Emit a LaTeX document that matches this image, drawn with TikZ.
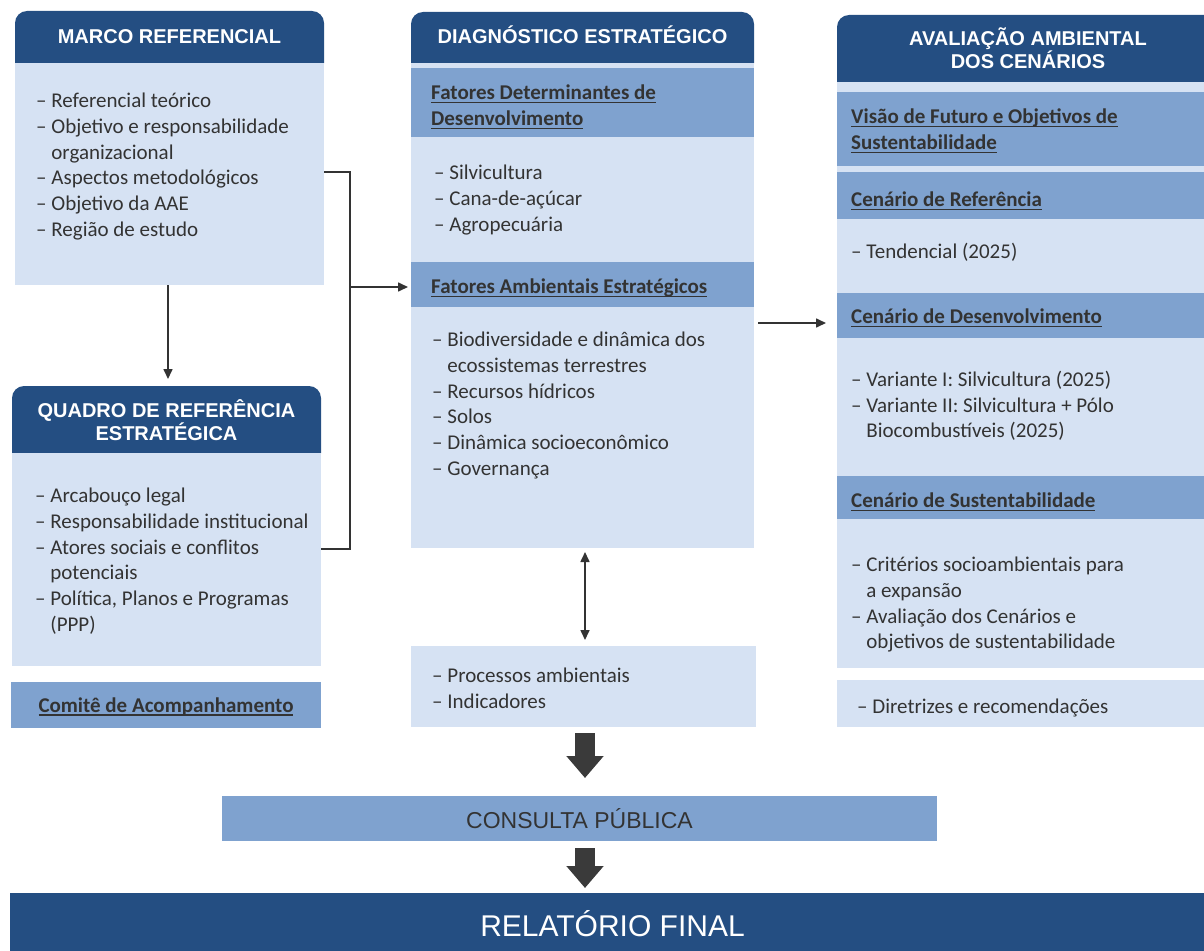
\documentclass[tikz,border=0pt]{standalone}
\usepackage{fontspec}
\setmainfont{Carlito}
\newfontfamily\hfont{Liberation Sans}
\usetikzlibrary{arrows.meta}
\definecolor{dk}{HTML}{244E82}
\definecolor{md}{HTML}{7FA2CF}
\definecolor{lt}{HTML}{D6E2F3}
\definecolor{tx}{HTML}{333333}
\definecolor{ar}{HTML}{3A3A3A}
\newcommand{\myul}[1]{\setbox0\hbox{#1}\rlap{\rule[-3.5pt]{\wd0}{1.3pt}}\box0}
\begin{document}
\begin{tikzpicture}[x=1pt,y=-1pt,
 rect/.style={inner sep=0pt, outer sep=0pt, anchor=north west, draw=none},
 ltbox/.style={rect, fill=lt},
 mdbox/.style={rect, fill=md},
 hdbox/.style={rect, fill=dk, rounded corners=12pt},
 body/.style={text=tx, font=\fontsize{21}{25.7}\selectfont, align=left, inner sep=0pt, anchor=north west, yshift=-2pt},
 sub/.style={body, font=\bfseries\fontsize{21}{25.7}\selectfont},
 title/.style={text=white, font=\hfont\bfseries\fontsize{20}{23.5}\selectfont, align=center, inner sep=0pt},
 conn/.style={draw=tx, line width=1.6pt},
 tip/.style={-{Triangle[length=10pt,width=9pt]}},
 bigarrow/.style={draw=ar, line width=20pt, -{Triangle[length=22pt,width=36pt]}}]
\useasboundingbox (0,0) rectangle (1204,950);
\clip (0,0) rectangle (1204,950);

% ---------- left column ----------
\node[hdbox, minimum width=309, minimum height=64] (mh) at (15,11) {};
\node[ltbox, minimum width=309, minimum height=222] (mb) at (15,63) {};
\node[title, anchor=base] (mht) at (169.5,44) {MARCO REFERENCIAL};
\node[body] (mbt) at (36,91) {– Referencial teórico\\– Objetivo e responsabilidade\\\hphantom{– }organizacional\\– Aspectos metodológicos\\– Objetivo da AAE\\– Região de estudo};

\node[hdbox, minimum width=309, minimum height=79] (qh) at (12,386) {};
\node[ltbox, minimum width=309, minimum height=213] (qb) at (12,453) {};
\node[title] (qht) at (166.5,420) {QUADRO DE REFERÊNCIA\\ESTRATÉGICA};
\node[body] (qbt) at (35,486) {– Arcabouço legal\\– Responsabilidade institucional\\– Atores sociais e conflitos\\\hphantom{– }potenciais\\– Política, Planos e Programas\\\hphantom{– }(PPP)};

\node[mdbox, minimum width=310, minimum height=46] (cm) at (11,682) {};
\node[sub, anchor=base] (cmt) at (166,710) {\myul{Comitê de Acompanhamento}};

% ---------- middle column ----------
\node[hdbox, minimum width=343, minimum height=63] (dh) at (411,12) {};
\node[ltbox, minimum width=343, minimum height=485] (dsb) at (411,63) {};
\node[title, anchor=base] (dht) at (582.5,44) {DIAGNÓSTICO ESTRATÉGICO};
\node[mdbox, minimum width=343, minimum height=69] (fdb) at (411,68) {};
\node[sub] (fdt) at (431,83) {\myul{Fatores Determinantes de}\\\myul{Desenvolvimento}};
\node[body] (fdl) at (434,163) {– Silvicultura\\– Cana-de-açúcar\\– Agropecuária};
\node[mdbox, minimum width=343, minimum height=45] (fab) at (411,262) {};
\node[sub] (fat) at (431,277) {\myul{Fatores Ambientais Estratégicos}};
\node[body] (fal) at (432,330) {– Biodiversidade e dinâmica dos\\\hphantom{– }ecossistemas terrestres\\– Recursos hídricos\\– Solos\\– Dinâmica socioeconômico\\– Governança};

\node[ltbox, minimum width=345, minimum height=81] (pb) at (411,646) {};
\node[body] (pbt) at (432,666) {– Processos ambientais\\– Indicadores};

% ---------- right column ----------
\node[hdbox, minimum width=383, minimum height=79] (ah) at (837,15) {};
\node[ltbox, minimum width=383, minimum height=586] (avb) at (837,82) {};
\node[title] (aht) at (1028,48) {AVALIAÇÃO AMBIENTAL\\DOS CENÁRIOS};
\node[mdbox, minimum width=383, minimum height=74] (vb) at (837,92) {};
\node[sub] (vbt) at (851,107) {\myul{Visão de Futuro e Objetivos de}\\\myul{Sustentabilidade}};
\node[mdbox, minimum width=383, minimum height=47] (crb) at (837,172) {};
\node[sub] (crt) at (851,190) {\myul{Cenário de Referência}};
\node[body] (crl) at (851,241) {– Tendencial (2025)};
\node[mdbox, minimum width=383, minimum height=45] (cdb) at (837,293) {};
\node[sub] (cdt) at (851,307) {\myul{Cenário de Desenvolvimento}};
\node[body] (cdl) at (851,369) {– Variante I: Silvicultura (2025)\\– Variante II: Silvicultura + Pólo\\\hphantom{– }Biocombustíveis (2025)};
\node[mdbox, minimum width=383, minimum height=43] (csb) at (837,476) {};
\node[sub] (cst) at (851,491) {\myul{Cenário de Sustentabilidade}};
\node[body] (csl) at (851,555) {– Critérios socioambientais para\\\hphantom{– }a expansão\\– Avaliação dos Cenários e\\\hphantom{– }objetivos de sustentabilidade};
\node[ltbox, minimum width=383, minimum height=47] (drb) at (837,680) {};
\node[body] (drt) at (857,697) {– Diretrizes e recomendações};

% ---------- bottom ----------
\node[mdbox, minimum width=715, minimum height=45] (cp) at (222,796) {};
\node[text=tx, font=\hfont\fontsize{23}{27}\selectfont, inner sep=0pt, anchor=base] (cpt) at (579.5,828) {CONSULTA PÚBLICA};
\node[rect, fill=dk, minimum width=1205, minimum height=67] (rf) at (10,893) {};
\node[text=white, font=\hfont\fontsize{30}{36}\selectfont, inner sep=0pt, anchor=base] (rft) at (612.5,936) {RELATÓRIO FINAL};

% ---------- connectors ----------
\coordinate (jn) at (350,287);
\draw[conn] ([yshift=2pt]mb.east) -| (jn) |- ([yshift=10.5pt]qb.east);
\draw[conn, tip, shorten >=3pt] (jn) -- (jn -| fab.west);
\draw[conn, tip, shorten >=7pt] ([xshift=-1.5pt]mb.south) -- ([xshift=-1.5pt]mb.south |- qh.north);
\draw[conn, {Triangle[length=10pt,width=9pt]}-{Triangle[length=10pt,width=9pt]}, shorten <=4pt, shorten >=6pt] ([xshift=2.5pt]dsb.south) -- ([xshift=2.5pt]dsb.south |- pb.north);
\draw[conn, tip, shorten <=4pt, shorten >=11pt] ([yshift=-17.5pt]dsb.east) -- ([yshift=-17.5pt]dsb.east -| cdb.west);
\draw[bigarrow, shorten <=6pt, shorten >=18pt] ([xshift=1.5pt]pb.south) -- ([xshift=1.5pt]pb.south |- cp.north);
\draw[bigarrow, shorten <=7pt, shorten >=5pt] (cp.south -| pb.south) ++(1.5,0) coordinate (cps) (cps) -- (cps |- rf.north);
\end{tikzpicture}
\end{document}
